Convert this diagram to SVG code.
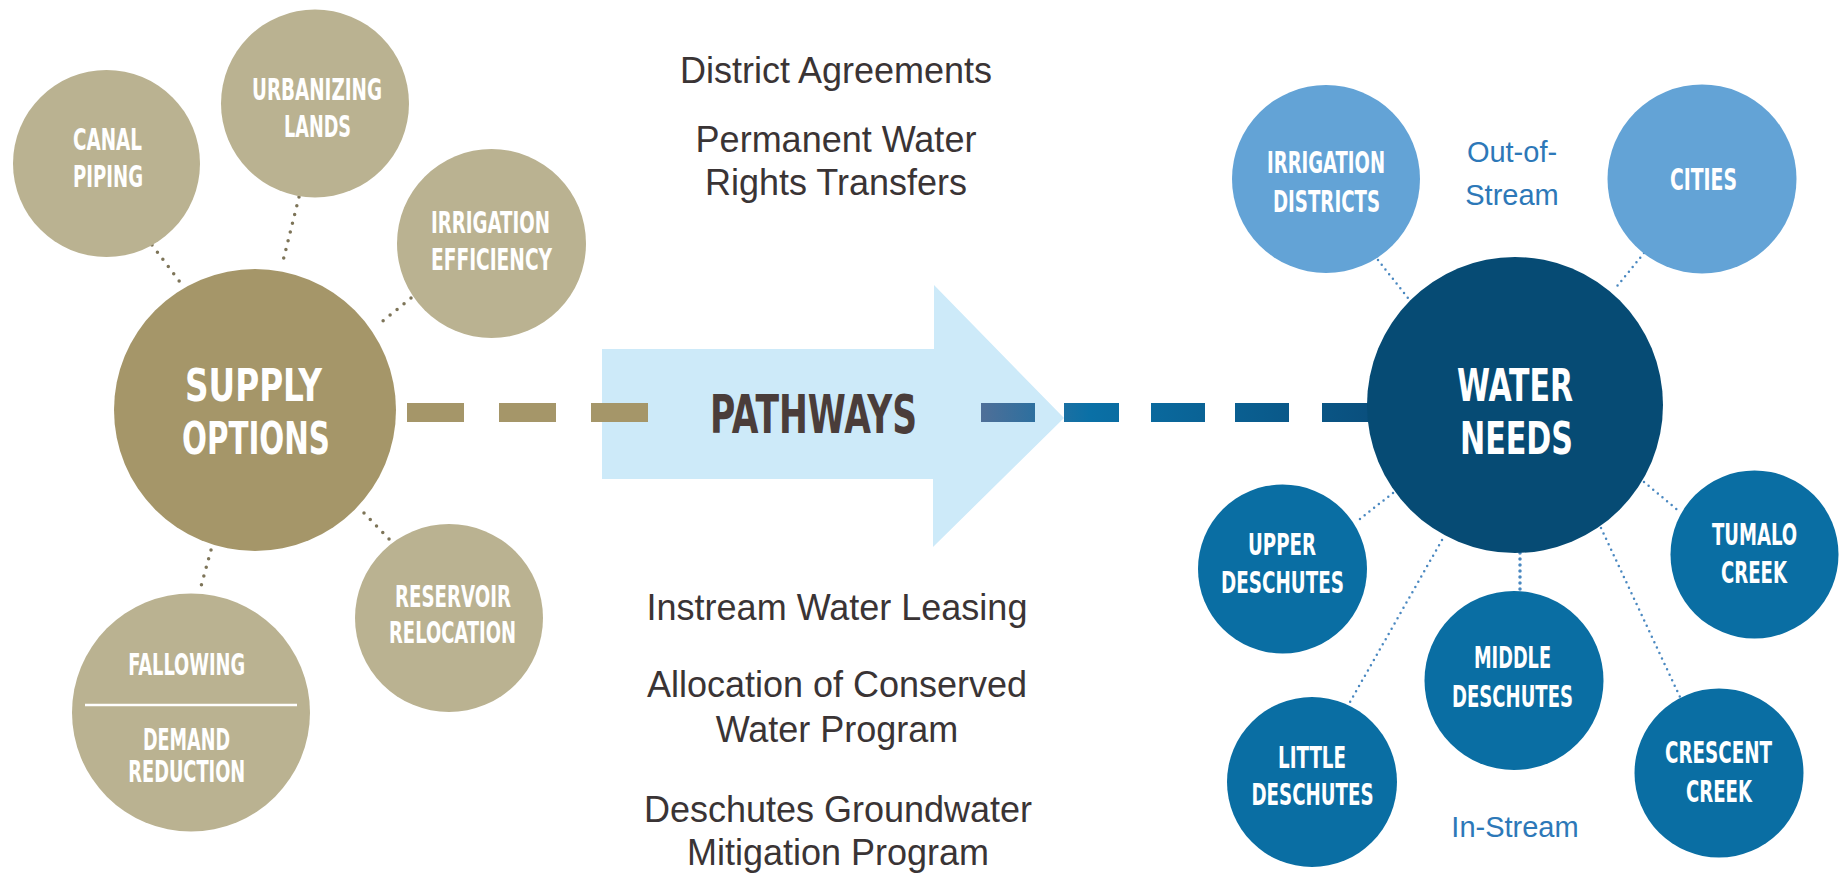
<svg xmlns="http://www.w3.org/2000/svg" width="1847" height="873" viewBox="0 0 1847 873">
<defs>
<style>
.lbl{font-family:"Liberation Sans Narrow","DejaVu Sans Condensed","Liberation Sans",sans-serif;font-weight:bold;fill:#ffffff;text-anchor:middle;font-size:30px}
.big{font-family:"Liberation Sans Narrow","DejaVu Sans Condensed","Liberation Sans",sans-serif;font-weight:bold;fill:#ffffff;text-anchor:middle;font-size:44px}
.body{font-family:"Liberation Sans",Arial,sans-serif;fill:#3a3435;text-anchor:middle;font-size:36px}
.note{font-family:"Liberation Sans",Arial,sans-serif;fill:#2d78b8;text-anchor:middle;font-size:29px}
.g1{fill:#a59669}
.g2{fill:#bab291}
.b0{fill:#064b74}
.b1{fill:#0a6ea3}
.b2{fill:#63a3d6}
.gdot{stroke:#7d7458;stroke-width:3.5;stroke-linecap:round;stroke-dasharray:0 9;fill:none}
.bdot{stroke:#4a88c0;stroke-width:2.5;stroke-linecap:round;stroke-dasharray:0 6;fill:none}
</style>
<linearGradient id="bdash" gradientUnits="userSpaceOnUse" x1="981" y1="0" x2="1372" y2="0">
<stop offset="0" stop-color="#4f6f98"/>
<stop offset="0.28" stop-color="#0a70a6"/>
<stop offset="1" stop-color="#0a4f7d"/>
</linearGradient>
</defs>

<g id="arrow">
<polygon points="602,349 934,349 934,285 1064,418 933,547 933,479 602,479" fill="#cdeaf9"/>
<text class="big" x="813.5" y="433" textLength="207" lengthAdjust="spacingAndGlyphs" style="fill:#4a3d3a;font-size:54px">PATHWAYS</text>
</g>

<g id="connectors">
<line class="gdot" x1="152" y1="245" x2="183" y2="286"/>
<line class="gdot" x1="299" y1="197" x2="282" y2="265"/>
<line class="gdot" x1="411" y1="298" x2="378" y2="325"/>
<line class="gdot" x1="364" y1="513" x2="393" y2="543"/>
<line class="gdot" x1="211" y1="550" x2="200" y2="590"/>
<line class="bdot" x1="1378" y1="260" x2="1408" y2="298"/>
<line class="bdot" x1="1644" y1="253" x2="1614" y2="290"/>
<line class="bdot" x1="1393" y1="493" x2="1356" y2="522"/>
<line class="bdot" x1="1644" y1="482" x2="1680" y2="512"/>
<line class="bdot" x1="1520" y1="553" x2="1520" y2="591" style="stroke-width:3.5"/>
<line class="bdot" x1="1442" y1="540" x2="1350" y2="702"/>
<line class="bdot" x1="1601" y1="528" x2="1680" y2="697"/>
<g id="gold-dashes" fill="#a59669">
<rect x="407" y="403" width="57" height="19"/>
<rect x="499" y="403" width="57" height="19"/>
<rect x="591" y="403" width="57" height="19"/>
</g>
<g id="blue-dashes" fill="url(#bdash)">
<rect x="981" y="403" width="54" height="19"/>
<rect x="1064" y="403" width="55" height="19"/>
<rect x="1151" y="403" width="54" height="19"/>
<rect x="1235" y="403" width="54" height="19"/>
<rect x="1322" y="403" width="54" height="19"/>
</g>
</g>

<g id="pathway-texts">
<text class="body" x="836" y="83">District Agreements</text>
<text class="body" x="836" y="152">Permanent Water</text>
<text class="body" x="836" y="195">Rights Transfers</text>
<text class="body" x="837" y="620">Instream Water Leasing</text>
<text class="body" x="837" y="697">Allocation of Conserved</text>
<text class="body" x="837" y="742">Water Program</text>
<text class="body" x="838" y="822">Deschutes Groundwater</text>
<text class="body" x="838" y="865">Mitigation Program</text>
</g>

<g id="supply-options">
<circle class="g1" cx="255" cy="410" r="141"/>
<text class="big" x="253.5" y="401" textLength="137" lengthAdjust="spacingAndGlyphs">SUPPLY</text>
<text class="big" x="256" y="454" textLength="148" lengthAdjust="spacingAndGlyphs">OPTIONS</text>
</g>
<g id="canal-piping">
<circle class="g2" cx="106.5" cy="163.5" r="93.5"/>
<text class="lbl" x="107.5" y="150" textLength="69" lengthAdjust="spacingAndGlyphs">CANAL</text>
<text class="lbl" x="108" y="187" textLength="70" lengthAdjust="spacingAndGlyphs">PIPING</text>
</g>
<g id="urbanizing-lands">
<circle class="g2" cx="315" cy="103.5" r="94"/>
<text class="lbl" x="317" y="100" textLength="130" lengthAdjust="spacingAndGlyphs">URBANIZING</text>
<text class="lbl" x="317.5" y="137" textLength="67" lengthAdjust="spacingAndGlyphs">LANDS</text>
</g>
<g id="irrigation-efficiency">
<circle class="g2" cx="491.5" cy="243.5" r="94.5"/>
<text class="lbl" x="490.5" y="233" textLength="119" lengthAdjust="spacingAndGlyphs">IRRIGATION</text>
<text class="lbl" x="491.5" y="270" textLength="121" lengthAdjust="spacingAndGlyphs">EFFICIENCY</text>
</g>
<g id="reservoir-relocation">
<circle class="g2" cx="449" cy="618" r="94"/>
<text class="lbl" x="453" y="607" textLength="116" lengthAdjust="spacingAndGlyphs">RESERVOIR</text>
<text class="lbl" x="452.5" y="643" textLength="127" lengthAdjust="spacingAndGlyphs">RELOCATION</text>
</g>
<g id="fallowing-demand-reduction">
<circle class="g2" cx="191" cy="712.5" r="119"/>
<line x1="85" y1="705" x2="297" y2="705" stroke="#ffffff" stroke-width="2.5"/>
<text class="lbl" x="186.75" y="675" textLength="117" lengthAdjust="spacingAndGlyphs">FALLOWING</text>
<text class="lbl" x="186.5" y="750" textLength="87" lengthAdjust="spacingAndGlyphs">DEMAND</text>
<text class="lbl" x="186.75" y="782" textLength="117" lengthAdjust="spacingAndGlyphs">REDUCTION</text>
</g>

<g id="water-needs">
<circle class="b0" cx="1515" cy="405" r="148"/>
<text class="big" x="1515" y="401" textLength="116" lengthAdjust="spacingAndGlyphs">WATER</text>
<text class="big" x="1516.5" y="454" textLength="113" lengthAdjust="spacingAndGlyphs">NEEDS</text>
</g>
<g id="irrigation-districts">
<circle class="b2" cx="1326" cy="179" r="94"/>
<text class="lbl" x="1326" y="173" textLength="118" lengthAdjust="spacingAndGlyphs">IRRIGATION</text>
<text class="lbl" x="1326.5" y="212" textLength="107" lengthAdjust="spacingAndGlyphs">DISTRICTS</text>
</g>
<g id="cities">
<circle class="b2" cx="1702" cy="179" r="94.5"/>
<text class="lbl" x="1703.5" y="190" textLength="67" lengthAdjust="spacingAndGlyphs">CITIES</text>
</g>
<g id="out-of-stream">
<text class="note" x="1512" y="162">Out-of-</text>
<text class="note" x="1512" y="205">Stream</text>
</g>
<g id="upper-deschutes">
<circle class="b1" cx="1282.5" cy="569" r="84.5"/>
<text class="lbl" x="1282" y="555" textLength="68" lengthAdjust="spacingAndGlyphs">UPPER</text>
<text class="lbl" x="1282.5" y="593" textLength="123" lengthAdjust="spacingAndGlyphs">DESCHUTES</text>
</g>
<g id="tumalo-creek">
<circle class="b1" cx="1754.5" cy="554.5" r="84"/>
<text class="lbl" x="1754.5" y="545" textLength="85" lengthAdjust="spacingAndGlyphs">TUMALO</text>
<text class="lbl" x="1754" y="583" textLength="66" lengthAdjust="spacingAndGlyphs">CREEK</text>
</g>
<g id="middle-deschutes">
<circle class="b1" cx="1514" cy="680.5" r="89.5"/>
<text class="lbl" x="1512.5" y="668" textLength="77" lengthAdjust="spacingAndGlyphs">MIDDLE</text>
<text class="lbl" x="1512.5" y="707" textLength="121" lengthAdjust="spacingAndGlyphs">DESCHUTES</text>
</g>
<g id="little-deschutes">
<circle class="b1" cx="1312" cy="782" r="85"/>
<text class="lbl" x="1312" y="768" textLength="68" lengthAdjust="spacingAndGlyphs">LITTLE</text>
<text class="lbl" x="1312.5" y="805" textLength="122" lengthAdjust="spacingAndGlyphs">DESCHUTES</text>
</g>
<g id="crescent-creek">
<circle class="b1" cx="1719" cy="773" r="84.5"/>
<text class="lbl" x="1718.5" y="763" textLength="107" lengthAdjust="spacingAndGlyphs">CRESCENT</text>
<text class="lbl" x="1719" y="802" textLength="66" lengthAdjust="spacingAndGlyphs">CREEK</text>
</g>
<g id="in-stream">
<text class="note" x="1515" y="837">In-Stream</text>
</g>
</svg>
